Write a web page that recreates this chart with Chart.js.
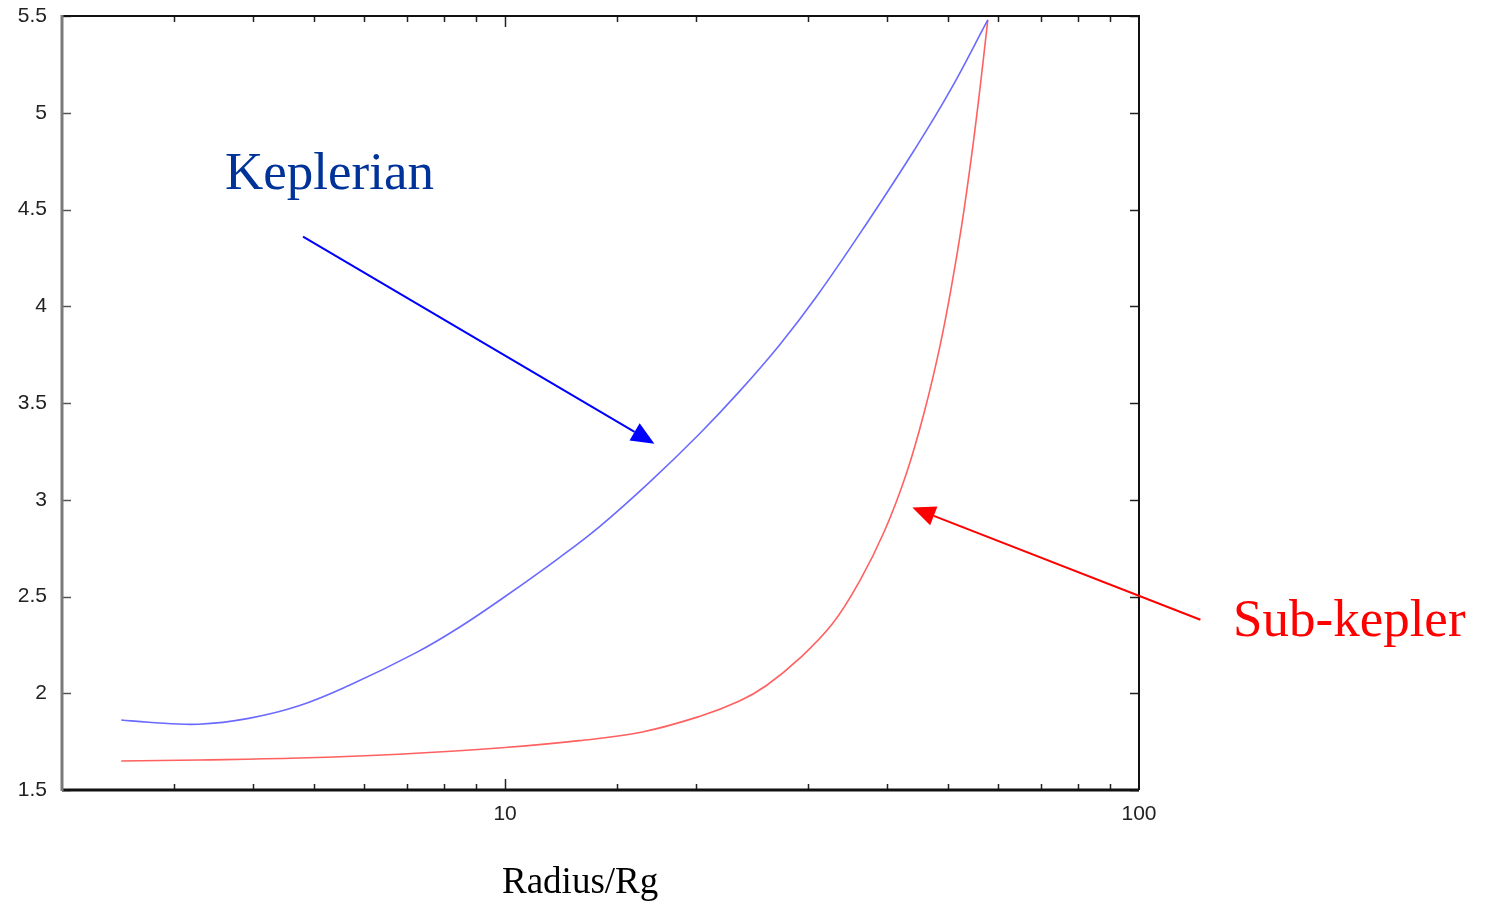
<!DOCTYPE html>
<html>
<head>
<meta charset="utf-8">
<script src="https://cdn.jsdelivr.net/npm/chart.js@4.4.1/dist/chart.umd.min.js"></script>
<style>
  html, body { margin: 0; padding: 0; background: #fff; }
</style>
</head>
<body>
<canvas id="grafico" width="1489" height="904"></canvas>
<script>
// Radios (Rg) y valores de cada curva
const radioKepler = [2.48, 2.74, 3.29, 3.94, 4.73, 5.67, 7.24, 8.46, 10, 12.17, 14.08, 16.89, 20.25, 23.43, 27.1, 31.0, 37.05, 44.27, 50.27, 57.74];
const valorKepler = [1.862, 1.85, 1.84, 1.87, 1.935, 2.04, 2.21, 2.34, 2.50, 2.70, 2.86, 3.09, 3.34, 3.56, 3.80, 4.05, 4.42, 4.81, 5.11, 5.48];
const radioSub = [2.48, 3.29, 4.73, 6.80, 10, 13.09, 16.46, 20.25, 23.43, 25.84, 29.14, 32.86, 36.25, 39.69, 43.0, 45.9, 48.5, 50.65, 52.53, 54.5, 56.1, 57.74];
const valorSub = [1.65, 1.655, 1.665, 1.685, 1.72, 1.755, 1.80, 1.88, 1.96, 2.04, 2.18, 2.36, 2.58, 2.84, 3.14, 3.46, 3.79, 4.11, 4.42, 4.79, 5.12, 5.48];

// Etiquetas y limites de los ejes
const etiquetasX = [10, 100];
const limitesX = [2, 100];
const limitesY = [1.5, 5.5];
const pasoY = 0.5;

// Flechas en coordenadas de datos: [radio, valor]
const flechaKepler = { desde: [4.8, 4.36], hasta: [17.2, 3.29] };
const flechaSub = { desde: [125, 2.38], hasta: [43.9, 2.96] };

function puntos(xs, ys) {
    return xs.map((x, i) => ({ x: x, y: ys[i] }));
}

// Dibuja una flecha con punta triangular rellena
function dibujarFlecha(ctx, x0, y0, x1, y1, color) {
    const ang = Math.atan2(y1 - y0, x1 - x0);
    const largo = 23, ancho = 10;
    const bx = x1 - largo * Math.cos(ang);
    const by = y1 - largo * Math.sin(ang);
    ctx.save();
    ctx.strokeStyle = color;
    ctx.fillStyle = color;
    ctx.lineWidth = 2;
    ctx.beginPath();
    ctx.moveTo(x0, y0);
    ctx.lineTo(bx, by);
    ctx.stroke();
    ctx.beginPath();
    ctx.moveTo(x1, y1);
    ctx.lineTo(bx + ancho * Math.sin(ang), by - ancho * Math.cos(ang));
    ctx.lineTo(bx - ancho * Math.sin(ang), by + ancho * Math.cos(ang));
    ctx.closePath();
    ctx.fill();
    ctx.restore();
}

// Marco con marcas hacia dentro en los cuatro lados
const marco = {
    id: 'marco',
    afterDatasetsDraw(chart) {
        const { ctx, chartArea: a, scales: { x, y } } = chart;
        ctx.save();
        ctx.lineCap = 'butt';

        // marcas del eje Y
        y.ticks.forEach(t => {
            const py = Math.round(y.getPixelForValue(t.value)) + 0.5;
            ctx.lineWidth = 1.5;
            ctx.strokeStyle = '#555';
            ctx.beginPath();
            ctx.moveTo(a.left, py);
            ctx.lineTo(a.left + 9, py);
            ctx.stroke();
            ctx.strokeStyle = '#222';
            ctx.beginPath();
            ctx.moveTo(a.right - 9, py);
            ctx.lineTo(a.right, py);
            ctx.stroke();
        });

        // marcas del eje X (logaritmico)
        x.ticks.forEach(t => {
            const v = t.value;
            if (v <= limitesX[0] || v >= limitesX[1]) return;
            const mayor = Math.abs(Math.log10(v) - Math.round(Math.log10(v))) < 1e-9;
            const largo = mayor ? 11 : 6;
            const px = Math.round(x.getPixelForValue(v)) + 0.5;
            ctx.lineWidth = 1.5;
            ctx.strokeStyle = '#222';
            ctx.beginPath();
            ctx.moveTo(px, a.bottom);
            ctx.lineTo(px, a.bottom - largo);
            ctx.moveTo(px, a.top);
            ctx.lineTo(px, a.top + largo);
            ctx.stroke();
        });

        // bordes
        ctx.strokeStyle = '#111';
        ctx.lineWidth = 2;
        ctx.beginPath();
        ctx.moveTo(a.left, a.top);
        ctx.lineTo(a.right, a.top);
        ctx.lineTo(a.right, a.bottom);
        ctx.stroke();
        ctx.lineWidth = 3;
        ctx.beginPath();
        ctx.moveTo(a.left, a.bottom);
        ctx.lineTo(a.right, a.bottom);
        ctx.stroke();
        ctx.strokeStyle = '#7a7a7a';
        ctx.lineWidth = 3;
        ctx.beginPath();
        ctx.moveTo(a.left, a.top - 1);
        ctx.lineTo(a.left, a.bottom + 1);
        ctx.stroke();
        ctx.restore();
    }
};

// Textos y flechas de las curvas
const anotaciones = {
    id: 'anotaciones',
    afterDraw(chart) {
        const { ctx, scales: { x, y } } = chart;
        const p = v => [x.getPixelForValue(v[0]), y.getPixelForValue(v[1])];

        const k0 = p(flechaKepler.desde), k1 = p(flechaKepler.hasta);
        dibujarFlecha(ctx, k0[0], k0[1], k1[0], k1[1], '#0000ff');
        const s0 = p(flechaSub.desde), s1 = p(flechaSub.hasta);
        dibujarFlecha(ctx, s0[0], s0[1], s1[0], s1[1], '#ff0000');

        ctx.save();
        ctx.textBaseline = 'alphabetic';
        ctx.textAlign = 'left';
        ctx.font = '53px "Liberation Serif", "Times New Roman", serif';
        ctx.fillStyle = '#003399';
        ctx.fillText('Keplerian', 225, 189);
        ctx.fillStyle = '#ff0000';
        ctx.fillText('Sub-kepler', 1233, 636);

        ctx.font = '37px "Liberation Serif", "Times New Roman", serif';
        ctx.fillStyle = '#000';
        ctx.fillText('Radius/Rg', 502, 893);
        ctx.restore();
    }
};

const ctx = document.getElementById('grafico').getContext('2d');
const grafico = new Chart(ctx, {
    type: 'scatter',
    data: {
        datasets: [
            {
                label: 'Keplerian',
                data: puntos(radioKepler, valorKepler),
                showLine: true,
                borderColor: '#6a6aff',
                borderWidth: 1.6,
                pointRadius: 0,
                tension: 0.4
            },
            {
                label: 'Sub-kepler',
                data: puntos(radioSub, valorSub),
                showLine: true,
                borderColor: '#ff6060',
                borderWidth: 1.6,
                pointRadius: 0,
                tension: 0.4
            }
        ]
    },
    options: {
        responsive: false,
        devicePixelRatio: 1,
        animation: false,
        layout: { padding: { top: 16, right: 350, left: 0, bottom: 0 } },
        plugins: {
            legend: { display: false },
            tooltip: { enabled: false }
        },
        scales: {
            x: {
                type: 'logarithmic',
                min: limitesX[0],
                max: limitesX[1],
                grid: { display: false, drawTicks: false },
                border: { display: false },
                ticks: {
                    autoSkip: false,
                    maxRotation: 0,
                    padding: 12,
                    color: '#222',
                    font: { family: 'Liberation Sans', size: 21 },
                    callback: function (v) {
                        return etiquetasX.some(e => Math.abs(e - v) < 1e-6) ? String(v) : '';
                    }
                },
                afterFit: function (s) {
                    s.height = 114;
                    s.paddingLeft = 0;
                    s.paddingRight = 0;
                }
            },
            y: {
                min: limitesY[0],
                max: limitesY[1],
                grid: { display: false, drawTicks: false },
                border: { display: false },
                ticks: {
                    stepSize: pasoY,
                    padding: 15,
                    color: '#222',
                    font: { family: 'Liberation Sans', size: 21 },
                    callback: function (v) { return String(v); }
                },
                afterFit: function (s) {
                    s.width = 62;
                    s.paddingTop = 0;
                    s.paddingBottom = 0;
                }
            }
        }
    },
    plugins: [marco, anotaciones]
});
</script>
</body>
</html>
